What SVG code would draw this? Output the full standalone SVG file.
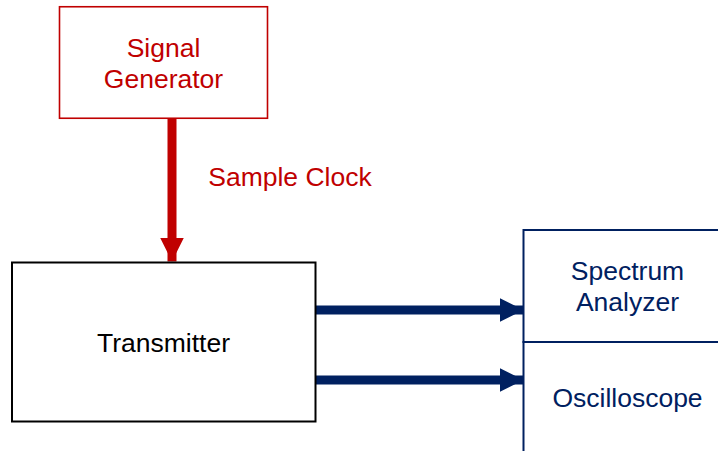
<svg xmlns="http://www.w3.org/2000/svg" width="718" height="451" viewBox="0 0 718 451">
<style>
text{font-family:"Liberation Sans",Arial,sans-serif;font-size:26.5px;text-anchor:middle}
.red{fill:#C00000}
.navy{fill:#002060}
.blk{fill:#000}
</style>
<defs>
<marker id="ahRed" markerUnits="userSpaceOnUse" markerWidth="24" markerHeight="24" refX="24" refY="12" orient="auto" viewBox="0 0 24 24">
<path d="M0,0 L24,12 L0,24 Z" fill="#C00000"/>
</marker>
<marker id="ahNavy" markerUnits="userSpaceOnUse" markerWidth="24" markerHeight="24" refX="24" refY="12" orient="auto" viewBox="0 0 24 24">
<path d="M0,0 L24,12 L0,24 Z" fill="#002060"/>
</marker>
</defs>
<rect width="718" height="451" fill="#fff"/>
<g id="connectors">
<line x1="172" y1="118" x2="172" y2="261.5" stroke="#C00000" stroke-width="9" marker-end="url(#ahRed)"/>
<text x="290" y="186" class="red">Sample Clock</text>
<line x1="316" y1="310" x2="523.5" y2="310" stroke="#002060" stroke-width="9" marker-end="url(#ahNavy)"/>
<line x1="316" y1="380" x2="523.5" y2="380" stroke="#002060" stroke-width="9" marker-end="url(#ahNavy)"/>
</g>
<g id="signal-generator">
<rect x="59.5" y="6.75" width="208" height="111.5" fill="#fff" stroke="#C00000" stroke-width="1.6"/>
<text x="163.5" y="57" class="red">Signal</text>
<text x="163.5" y="88" class="red">Generator</text>
</g>
<g id="transmitter">
<rect x="12" y="262.5" width="303.5" height="159" fill="#fff" stroke="#000" stroke-width="2"/>
<text x="163.5" y="352" class="blk">Transmitter</text>
</g>
<g id="spectrum-analyzer">
<rect x="523.5" y="230" width="210" height="112" fill="none" stroke="#002060" stroke-width="2"/>
<text x="627.5" y="280" class="navy">Spectrum</text>
<text x="627.5" y="311" class="navy">Analyzer</text>
</g>
<g id="oscilloscope">
<rect x="523.5" y="342" width="210" height="130" fill="none" stroke="#002060" stroke-width="2"/>
<text x="627.5" y="407" class="navy">Oscilloscope</text>
</g>
</svg>
